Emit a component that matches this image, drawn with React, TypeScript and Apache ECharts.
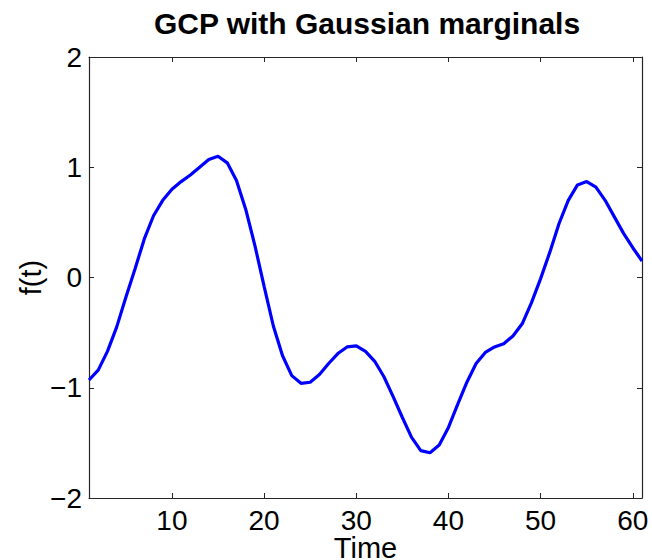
import React, { useEffect, useRef } from "react";
import * as echarts from "echarts";

const timeValues: number[] = Array.from({ length: 61 }, (_, i) => i + 1);
const fValues: number[] = [
  -0.93, -0.84, -0.67, -0.45, -0.18, 0.08, 0.35, 0.56, 0.7, 0.8,
  0.87, 0.93, 1.0, 1.07, 1.1, 1.04, 0.88, 0.62, 0.29, -0.08,
  -0.44, -0.71, -0.89, -0.96, -0.95, -0.88, -0.78, -0.69, -0.63, -0.62,
  -0.67, -0.76, -0.9, -1.08, -1.27, -1.45, -1.57, -1.59, -1.52, -1.36,
  -1.15, -0.95, -0.78, -0.68, -0.63, -0.6, -0.53, -0.42, -0.23, -0.01,
  0.23, 0.49, 0.7, 0.84, 0.87, 0.82, 0.7, 0.55, 0.4, 0.27,
  0.15,
];
const xTicks: number[] = [10, 20, 30, 40, 50, 60];

const FONT = "Liberation Sans, Arial, Helvetica, sans-serif";
const AXIS_COLOR = "#262626";

export default function App() {
  const ref = useRef<HTMLDivElement>(null);
  useEffect(() => {
    if (!ref.current) return;
    const chart = echarts.init(ref.current, null, { renderer: "svg" });
    const fmt = (v: number) => String(v).replace("-", "\u2212");
    const xBase = {
      type: "value" as const,
      min: 1,
      max: 61,
      splitLine: { show: false },
      axisLine: { show: true, onZero: false, lineStyle: { color: AXIS_COLOR, width: 1.2 } },
      axisTick: { show: true, inside: true, length: 5, customValues: xTicks, lineStyle: { color: AXIS_COLOR } },
    };
    const yBase = {
      type: "value" as const,
      min: -2,
      max: 2,
      interval: 1,
      splitLine: { show: false },
      axisLine: { show: true, onZero: false, lineStyle: { color: AXIS_COLOR, width: 1.2 } },
      axisTick: { show: true, inside: true, length: 5, lineStyle: { color: AXIS_COLOR } },
    };
    chart.setOption({
      animation: false,
      backgroundColor: "#ffffff",
      title: {
        text: "GCP with Gaussian marginals",
        left: 362,
        textAlign: "center",
        top: 3,
        textStyle: { fontFamily: FONT, fontSize: 30, fontWeight: "bold", color: "#000" },
      },
      grid: { left: 89, top: 57, right: 10, bottom: 62, containLabel: false, outerBoundsMode: "none" },
      xAxis: [
        {
          ...xBase,
          position: "bottom",
          name: "Time",
          nameLocation: "middle",
          nameGap: 39,
          nameMoveOverlap: false,
          nameTextStyle: { fontFamily: FONT, fontSize: 29, lineHeight: 22, color: "#000" },
          axisLabel: {
            show: true,
            customValues: xTicks,
            margin: 8,
            fontFamily: FONT,
            fontSize: 28,
            color: "#000",
          },
        },
        {
          ...xBase,
          position: "top",
          axisLabel: { show: false },
        },
      ],
      yAxis: [
        {
          ...yBase,
          position: "left",
          name: "f(t)",
          nameLocation: "middle",
          nameGap: 44,
          nameMoveOverlap: false,
          nameRotate: 90,
          nameTextStyle: { fontFamily: FONT, fontSize: 29, color: "#000" },
          axisLabel: {
            show: true,
            margin: 7,
            fontFamily: FONT,
            fontSize: 28,
            color: "#000",
            formatter: fmt,
          },
        },
        {
          ...yBase,
          position: "right",
          axisLabel: { show: false },
        },
      ],
      series: [
        {
          type: "line",
          xAxisIndex: 0,
          yAxisIndex: 0,
          data: timeValues.map((t, i) => [t, fValues[i]]),
          showSymbol: false,
          symbol: "none",
          lineStyle: { color: "#0000ff", width: 3.2 },
          smooth: false,
        },
      ],
    });
    return () => chart.dispose();
  }, []);
  return (
    <div
      ref={ref}
      style={{ position: "fixed", left: 0, top: 0, width: 652, height: 560 }}
    />
  );
}
